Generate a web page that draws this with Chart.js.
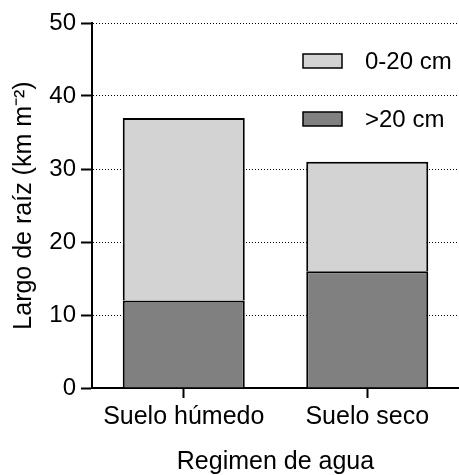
<!DOCTYPE html>
<html><head><meta charset="utf-8">
<script src="https://cdn.jsdelivr.net/npm/chart.js@4"></script>
<style>html,body{margin:0;padding:0;background:#fff}</style>
</head><body>
<canvas id="c" width="459" height="475"></canvas>
<script>
// ---- data ----
const categories = ['Suelo húmedo', 'Suelo seco'];
const deepValues = [12, 16];      // >20 cm (bottom segment)
const shallowValues = [25, 15];   // 0-20 cm (top segment; totals 37 and 31)
const seriesLabels = ['>20 cm', '0-20 cm'];
const yTicks = [0, 10, 20, 30, 40, 50];
const xTitle = 'Regimen de agua';
const yTitle = 'Largo de raíz (km m⁻²)';

const FONT = '"Liberation Sans", Arial, sans-serif';
const colors = ['#808080', '#d3d3d3'];

const boxLegend = {
  id: 'boxLegend',
  afterDraw(chart) {
    const ctx = chart.ctx, ca = chart.chartArea;
    const ds = chart.data.datasets.slice().reverse();
    ctx.save();
    ds.forEach((d, i) => {
      const y = ca.top + 31 + i * 58;
      const x = 303;
      ctx.fillStyle = d.backgroundColor;
      ctx.fillRect(x, y, 39, 14);
      ctx.lineWidth = 1.5;
      ctx.strokeStyle = '#000';
      ctx.strokeRect(x, y, 39, 14);
      ctx.fillStyle = '#000';
      ctx.font = '24px ' + FONT;
      ctx.textBaseline = 'middle';
      ctx.textAlign = 'left';
      ctx.fillText(d.label, 365, y + 8);
    });
    ctx.restore();
  }
};

new Chart(document.getElementById('c'), {
  type: 'bar',
  data: {
    labels: categories,
    datasets: [
      { label: seriesLabels[0], data: deepValues, backgroundColor: colors[0], borderColor: '#000', borderWidth: 2 },
      { label: seriesLabels[1], data: shallowValues, backgroundColor: colors[1], borderColor: '#000', borderWidth: 2 }
    ]
  },
  options: {
    responsive: false,
    animation: false,
    devicePixelRatio: 1,
    layout: { padding: { top: 23, right: 0, bottom: 0, left: 0 } },
    datasets: { bar: { categoryPercentage: 1, barPercentage: 0.665 } },
    plugins: { legend: { display: false }, tooltip: { enabled: false } },
    scales: {
      x: {
        stacked: true,
        offset: true,
        afterFit(s) { s.height = 87; },
        grid: { display: true, drawOnChartArea: false, drawTicks: true, tickLength: 10, tickWidth: 2, tickColor: '#000', offset: false },
        border: { display: true, color: '#000', width: 2 },
        ticks: { color: '#000', font: { family: FONT, size: 25 }, padding: 4, maxRotation: 0 },
        title: { display: true, text: xTitle, color: '#000', font: { family: FONT, size: 25, lineHeight: 1 }, padding: { top: 0, bottom: 0 } }
      },
      y: {
        stacked: true,
        min: 0, max: 50,
        afterFit(s) { s.width = 92; },
        afterBuildTicks(s) { s.ticks = yTicks.map(v => ({ value: v })); },
        grid: { color: '#000', lineWidth: 1, borderDash: [1, 2], drawTicks: true, tickLength: 11, tickWidth: 2, tickColor: '#000', tickBorderDash: [] },
        border: { display: true, color: '#000', width: 2, dash: [1, 2] },
        ticks: { color: '#000', font: { family: FONT, size: 24 }, padding: 5 },
        title: { display: true, text: yTitle, color: '#000', font: { family: FONT, size: 25 }, padding: { top: 9, bottom: 0 } }
      }
    }
  },
  plugins: [boxLegend]
});
</script>
</body></html>
